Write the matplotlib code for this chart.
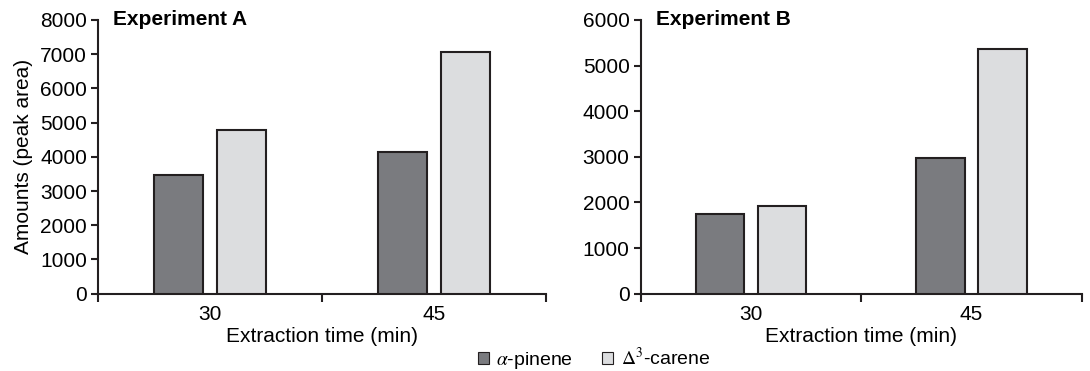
import numpy as np
import matplotlib
matplotlib.use("Agg")
from matplotlib import pyplot as plt
from matplotlib.patches import Patch

plt.rcParams['font.family'] = ['Liberation Sans', 'DejaVu Sans']
plt.rcParams['font.size'] = 15
plt.rcParams['mathtext.fontset'] = 'stix'

# extraction times and peak areas
times = ["30", "45"]
pinene_a = [3470, 4130]
carene_a = [4780, 7060]
pinene_b = [1750, 2980]
carene_b = [1930, 5370]

dark = "#7a7b7f"
light = "#dcdddf"
edge = "#231f20"

fig = plt.figure(figsize=(10.9, 3.71), dpi=100)
ax_a = fig.add_axes([0.0899, 0.2084, 0.411, 0.7377])
ax_b = fig.add_axes([0.5878, 0.2084, 0.4046, 0.7377])


def draw(ax, p, c, ymax, title):
    x = np.arange(len(times))
    w = 0.22
    ax.bar(x - 0.14, p, w, color=dark, edgecolor=edge, linewidth=1.5, zorder=3)
    ax.bar(x + 0.14, c, w, color=light, edgecolor=edge, linewidth=1.5, zorder=3)
    ax.set_xlim(-0.5, len(times) - 0.5)
    ax.set_ylim(0, ymax)
    ax.set_yticks(np.arange(0, ymax + 1, 1000))
    ax.set_xticks(x)
    ax.set_xticklabels(times)
    # ticks sit between the groups, labels at group centres
    ax.set_xticks(np.arange(-0.5, len(times), 1.0), minor=True)
    ax.tick_params(axis='x', which='major', length=0, pad=8)
    ax.tick_params(axis='x', which='minor', length=6, width=1.5, color=edge)
    ax.tick_params(axis='y', length=5, width=1.5, color=edge, pad=3)
    for s in ["top", "right"]:
        ax.spines[s].set_visible(False)
    for s in ["left", "bottom"]:
        ax.spines[s].set_linewidth(1.5)
        ax.spines[s].set_color(edge)
    ax.set_xlabel("Extraction time (min)", labelpad=2)
    ax.text(0.034, 1.0, title, transform=ax.transAxes, fontweight="bold",
            ha="left", va="center")


draw(ax_a, pinene_a, carene_a, 8000, "Experiment A")
draw(ax_b, pinene_b, carene_b, 6000, "Experiment B")
ax_a.set_ylabel("Amounts (peak area)", labelpad=5)

handles = [Patch(facecolor=dark, edgecolor=edge, linewidth=0.8),
           Patch(facecolor=light, edgecolor=edge, linewidth=0.8)]
fig.legend(handles, [r"$\alpha$-pinene", r"$\mathrm{\Delta}^3$-carene"],
           loc="center", bbox_to_anchor=(0.545, 0.032), ncol=2, frameon=False,
           handlelength=0.55, handleheight=0.55, handletextpad=0.4,
           columnspacing=1.5, fontsize=14, borderpad=0.05)

fig.savefig("out.png", dpi=100)
